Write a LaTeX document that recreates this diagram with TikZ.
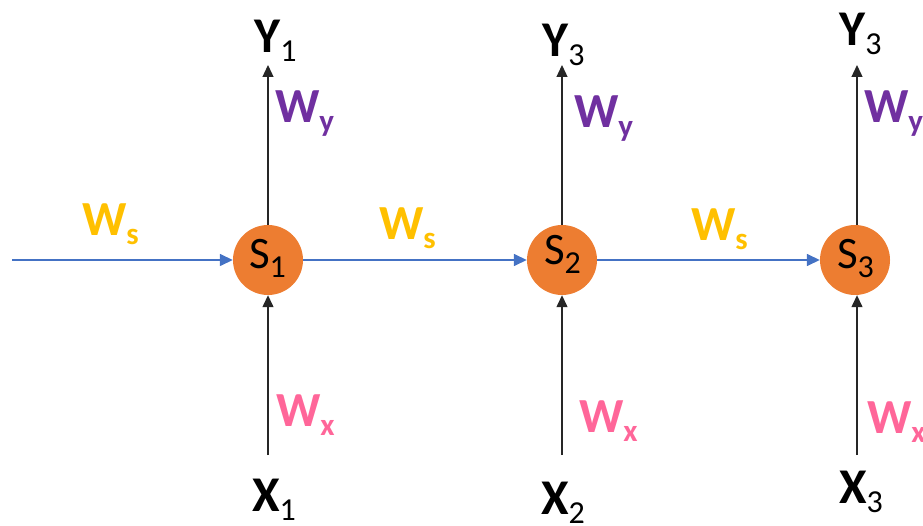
\documentclass[tikz,border=0pt]{standalone}
\usepackage{fontspec}
\setmainfont{Carlito}
\usetikzlibrary{arrows.meta}
\definecolor{corange}{HTML}{ED7D31}
\definecolor{cblue}{HTML}{4472C4}
\definecolor{cgold}{HTML}{FFC000}
\definecolor{cpurple}{HTML}{7030A0}
\definecolor{cpink}{HTML}{FF6699}
\newcommand{\wlab}[1]{\fontsize{49}{49}\selectfont\textbf{W}\raisebox{-9pt}{\fontsize{31}{31}\selectfont\textbf{#1}}}
\newcommand{\vlab}[2]{\fontsize{50}{50}\selectfont\textbf{#1}\raisebox{-9pt}{\fontsize{32}{32}\selectfont #2}}
\newcommand{\slab}[1]{\fontsize{45}{45}\selectfont S\raisebox{-9pt}{\fontsize{32}{32}\selectfont #1}}
\tikzset{
  state/.style={circle, fill=corange, draw=none, minimum size=70pt, inner sep=0pt},
  lab/.style={anchor=base west, inner sep=0pt, outer sep=0pt},
  blk/.style={draw=black!85, line width=1.3pt, -{Triangle[length=12pt,width=11pt]}},
  blu/.style={draw=cblue, line width=1.5pt, -{Triangle[length=13pt,width=12pt]}, color=cblue},
}
\begin{document}
\begin{tikzpicture}[x=1pt,y=-1pt]
\useasboundingbox (0,0) rectangle (923,526);
% states
\node[state] (s1) at (268,260) {};
\node[state] (s2) at (562,260) {};
\node[state] (s3) at (855,260) {};
\node[lab] (s1t) at (249,269) {\slab{1}};
\node[lab] (s2t) at (544,265) {\slab{2}};
\node[lab] (s3t) at (837,269) {\slab{3}};
% coordinates
\coordinate (in) at (12,260);
\coordinate (y1a) at (268,65);
\coordinate (y2a) at (562,65);
\coordinate (y3a) at (857,65);
\coordinate (x1a) at (268,455);
\coordinate (x2a) at (562,455);
\coordinate (x3a) at (857,455);
% horizontal arrows
\draw[blu] (in) -- (s1.west);
\draw[blu] (s1.east) -- (s2.west);
\draw[blu] (s2.east) -- (s3.west);
% vertical arrows
\draw[blk] (s1.north) -- (y1a);
\draw[blk] (s2.north) -- (y2a);
\draw[blk] (s3.north -| y3a) -- (y3a);
\draw[blk] (x1a) -- (s1.south);
\draw[blk] (x2a) -- (s2.south);
\draw[blk] (x3a) -- (x3a |- s3.south);
% outputs and inputs
\node[lab] (y1) at (254,53) {\vlab{Y}{1}};
\node[lab] (y2) at (542,57) {\vlab{Y}{3}};
\node[lab] (y3) at (839,46) {\vlab{Y}{3}};
\node[lab] (x1) at (252,511) {\vlab{X}{1}};
\node[lab] (x2) at (541,514) {\vlab{X}{2}};
\node[lab] (x3) at (839,503) {\vlab{X}{3}};
% weights
\node[lab, text=cgold] (ws1) at (82,236) {\wlab{s}};
\node[lab, text=cgold] (ws2) at (379,240) {\wlab{s}};
\node[lab, text=cgold] (ws3) at (691,241) {\wlab{s}};
\node[lab, text=cpurple] (wy1) at (275,123) {\wlab{y}};
\node[lab, text=cpurple] (wy2) at (574,128) {\wlab{y}};
\node[lab, text=cpurple] (wy3) at (864,123) {\wlab{y}};
\node[lab, text=cpink] (wx1) at (276,426) {\wlab{x}};
\node[lab, text=cpink] (wx2) at (579,432) {\wlab{x}};
\node[lab, text=cpink] (wx3) at (867,433) {\wlab{x}};
\end{tikzpicture}
\end{document}
